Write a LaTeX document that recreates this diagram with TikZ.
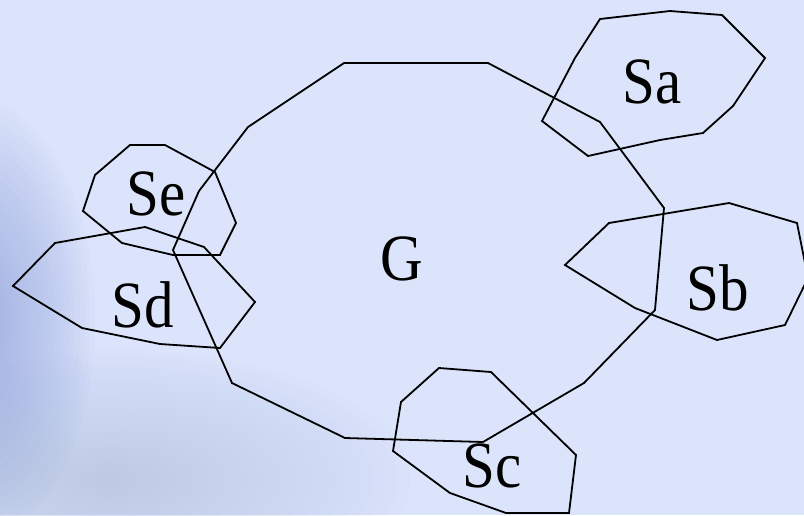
\documentclass[tikz,border=0pt]{standalone}
\usepackage{fontspec}
\setmainfont{Liberation Serif}
\definecolor{bgcol}{RGB}{220,228,251}
\definecolor{edgecol}{RGB}{140,160,220}
\definecolor{haze}{RGB}{180,195,228}
\tikzset{
  region/.style={draw=black, line width=1.8pt, line join=miter},
  lbl/.style={anchor=base, inner sep=0pt, font=\fontsize{59}{59}\selectfont}
}
\newcommand{\tallt}[1]{\scalebox{1}[1.12]{#1}}
\begin{document}
\begin{tikzpicture}[x=1pt,y=-1pt]
\useasboundingbox (0,0) rectangle (804,515);
\fill[bgcol] (0,0) rectangle (804,515);
\begin{scope}
\clip (0,0) rectangle (804,515);
% bottom-left haze
\foreach \i in {1,...,24}
  \fill[haze, opacity=0.035] (110,480) ellipse ({300*\i/24} and {130*\i/24});
% left edge darkening
\foreach \i in {1,...,24}
  \fill[edgecol, opacity=0.04] (-25,320) ellipse ({120*\i/24} and {220*\i/24});
\end{scope}

% G
\draw[region] (344,63) -- (488,63) -- (600,122) -- (664,208) -- (655,310)
  -- (584,383) -- (483,442) -- (345,438) -- (232,383) -- (173,250)
  -- (199,191) -- (248,127) -- cycle;
% Sa
\draw[region] (600,19) -- (670,11) -- (722,15) -- (765,58) -- (733,106)
  -- (703,133) -- (660,140) -- (588,156) -- (542,121) -- (575,58) -- cycle;
% Sb
\draw[region] (565,265) -- (609,223) -- (729,203) -- (797,223) -- (808,278)
  -- (785,325) -- (717,340) -- (635,308) -- cycle;
% Sc
\draw[region] (439,368) -- (491,372) -- (576,455) -- (569,513) -- (506,513)
  -- (450,493) -- (393,451) -- (401,402) -- cycle;
% Sd
\draw[region] (55,243) -- (145,227) -- (204,247) -- (255,302) -- (220,348)
  -- (160,344) -- (82,328) -- (13,286) -- cycle;
% Se
\draw[region] (130,145) -- (165,145) -- (215,172) -- (236,223) -- (220,255)
  -- (173,255) -- (122,243) -- (83,211) -- (95,175) -- cycle;

\node[lbl] (G)  at (402,280) {\tallt{G}};
\node[lbl] (Sa) at (652,103) {\tallt{Sa}};
\node[lbl] (Sb) at (718,310) {\tallt{Sb}};
\node[lbl] (Sc) at (492,487) {\tallt{Sc}};
\node[lbl] (Sd) at (143,327) {\tallt{Sd}};
\node[lbl] (Se) at (156,215) {\tallt{Se}};
\end{tikzpicture}
\end{document}
